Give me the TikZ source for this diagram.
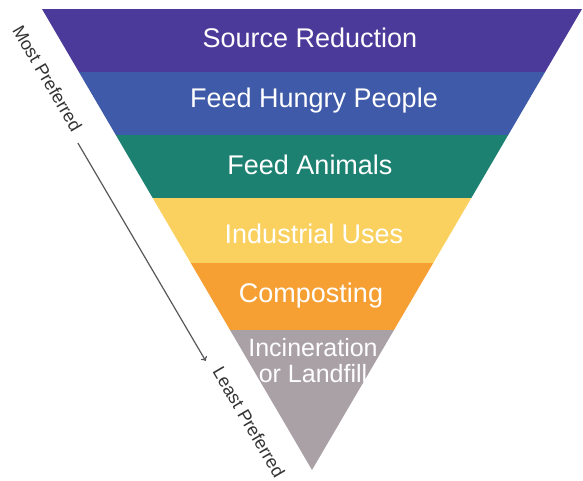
\documentclass[tikz,border=0pt]{standalone}
\usepackage{fontspec}
\usepackage{tikz}
\setmainfont{Liberation Sans}
\usetikzlibrary{arrows.meta, positioning}
\definecolor{levelpurple}{RGB}{76, 58, 154}
\definecolor{levelblue}{RGB}{62, 90, 168}
\definecolor{levelgreen}{RGB}{29, 129, 114}
\definecolor{levelyellow}{RGB}{250, 208, 94}
\definecolor{levelorange}{RGB}{246, 160, 52}
\definecolor{levelgray}{RGB}{170, 161, 167}
\definecolor{arrowgray}{RGB}{88, 88, 92}

\begin{document}
\begin{tikzpicture}[x=1pt, y=-1pt,
    levellabel/.style={text=white, font=\fontsize{27}{27}\selectfont, anchor=base},
    sidelabel/.style={text=black!80, font=\fontsize{18}{18}\selectfont, rotate=-59.6}]
        \useasboundingbox (0,0) rectangle (583,481);

        % Inverted pyramid, one band per level
        \begin{scope}
            \clip (42,9) -- (582,9) -- (312,470) -- cycle;
            \fill[levelpurple] (0,9) rectangle (583,72);
            \fill[levelblue] (0,72) rectangle (583,135);
            \fill[levelgreen] (0,135) rectangle (583,198);
            \fill[levelyellow] (0,198) rectangle (583,263);
            \fill[levelorange] (0,263) rectangle (583,330);
            \fill[levelgray] (0,330) rectangle (583,481);
        \end{scope}

        % Levels
        \node[levellabel] (source) at (310,48) {Source Reduction};
        \node[levellabel] (people) at (314,108) {Feed Hungry People};
        \node[levellabel] (animals) at (310,175) {Feed Animals};
        \node[levellabel] (industry) at (314,243) {Industrial Uses};
        \node[levellabel] (compost) at (311,302) {Composting};
        \node[levellabel, anchor=center, align=center, font=\fontsize{25}{26}\selectfont] (landfill) at (313,361) {Incineration\\or Landfill};

        % Preference scale
        \node[sidelabel] (most) at (47.5,78.5) {Most Preferred};
        \node[sidelabel] (least) at (249,422) {Least Preferred};
        \draw[-{To[length=4pt, width=7pt]}, line width=1.2pt, arrowgray, shorten <=8pt, shorten >=9pt] (most.base east) -- (least.base west);
    \end{tikzpicture}
\end{document}
